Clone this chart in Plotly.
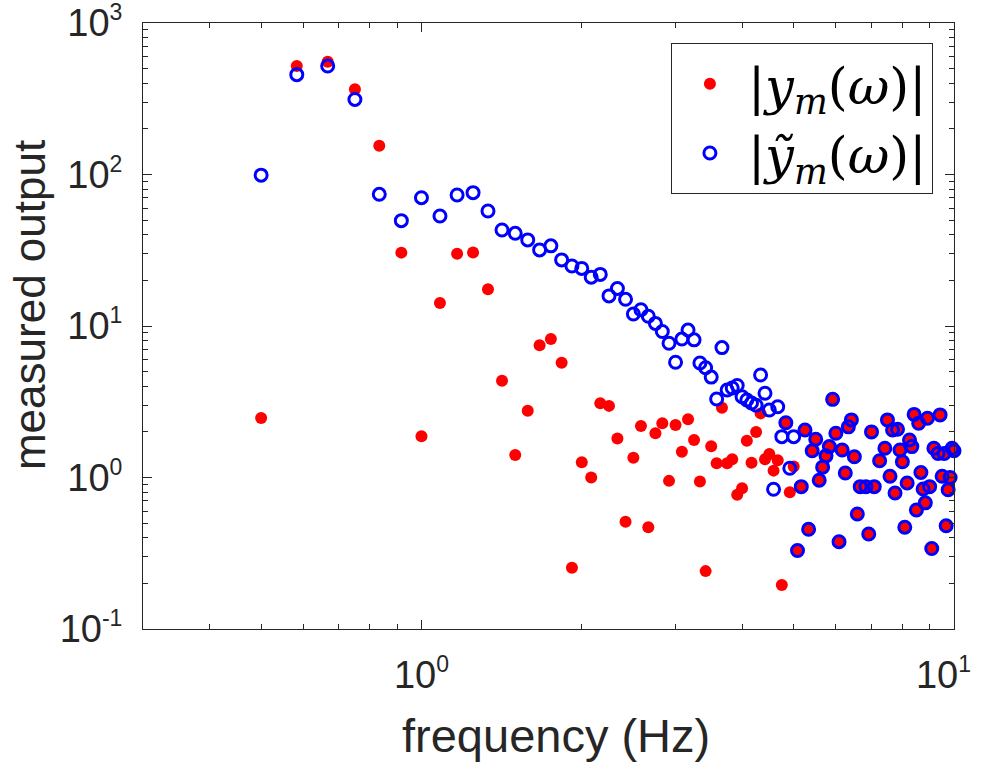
import math
import plotly.graph_objects as go

# frequencies (Hz)
freq = [0.5000, 0.5833, 0.6667, 0.7500, 0.8333, 0.9167, 1.0000, 1.0833, 1.1667, 1.2500,
        1.3333, 1.4167, 1.5000, 1.5833, 1.6667, 1.7500, 1.8333, 1.9167, 2.0000, 2.0833,
        2.1667, 2.2500, 2.3333, 2.4167, 2.5000, 2.5833, 2.6667, 2.7500, 2.8333, 2.9167,
        3.0000, 3.0833, 3.1667, 3.2500, 3.3333, 3.4167, 3.5000, 3.5833, 3.6667, 3.7500,
        3.8333, 3.9167, 4.0000, 4.0833, 4.1667, 4.2500, 4.3333, 4.4167, 4.5000, 4.5833,
        4.6667, 4.7500, 4.8333, 4.9167, 5.0000, 5.0833, 5.1667, 5.2500, 5.3333, 5.4167,
        5.5000, 5.5833, 5.6667, 5.7500, 5.8333, 5.9167, 6.0000, 6.0833, 6.1667, 6.2500,
        6.3333, 6.4167, 6.5000, 6.5833, 6.6667, 6.7500, 6.8333, 6.9167, 7.0000, 7.0833,
        7.1667, 7.2500, 7.3333, 7.4167, 7.5000, 7.5833, 7.6667, 7.7500, 7.8333, 7.9167,
        8.0000, 8.0833, 8.1667, 8.2500, 8.3333, 8.4167, 8.5000, 8.5833, 8.6667, 8.7500,
        8.8333, 8.9167, 9.0000, 9.0833, 9.1667, 9.2500, 9.3333, 9.4167, 9.5000, 9.5833,
        9.6667, 9.7500, 9.8333, 9.9167, 10.0000]

# |y_m(omega)|  (red filled dots)
y_m = [2.47, 520, 555, 365, 155, 30.5, 1.87, 14.2, 30, 30.6,
       17.5, 4.35, 1.41, 2.76, 7.46, 8.2, 5.73, 0.254, 1.26, 1.0,
       3.09, 2.97, 1.81, 0.51, 1.35, 2.19, 0.47, 1.96, 2.28, 0.95,
       2.22, 1.48, 2.42, 1.77, 0.94, 0.241, 1.61, 1.24, 2.89, 1.24,
       1.32, 0.77, 0.85, 1.75, 1.25, 2.0, 2.65, 1.32, 1.43, 1.11,
       1.30, 0.195, 2.3, 0.80, 1.18, 0.33, 0.87, 2.06, 0.455, 1.50,
       1.79, 0.96, 1.17, 1.39, 1.60, 3.28, 1.96, 0.377, 1.52, 1.07,
       2.16, 2.40, 1.37, 0.574, 0.87, None, 0.87, 0.424, 2.0, 0.87,
       None, 1.29, None, 1.56, 2.40, 1.02, 2.06, 0.79, 2.08, 1.52,
       1.27, 0.47, 0.92, 1.77, 1.60, 2.61, 0.61, 2.28, 1.08, 0.84,
       0.68, 2.46, 0.87, 0.34, 1.56, None, 1.44, 2.59, 1.02, 1.44,
       0.48, 0.83, 1.0, 1.56, 1.50]

# |y~_m(omega)|  (blue open circles)
y_tilde = [99, 456, 520, 313, 74, 49.6, 70.3, 53.2, 73.2, 75.9,
           57.4, 43, 40.9, 37, 31.8, 33.8, 27.3, 24.9, 24.0, 21,
           21.9, 15.8, 17.7, 15.0, 12.0, 12.8, 11.6, 10.4, 9.2, 7.7,
           5.76, 8.2, 9.4, 8.1, 5.7, 5.3, 4.6, 3.3, 7.2, 3.78,
           3.9, 4.05, 3.41, 3.25, 3.1, 3.0, 4.75, 3.6, 2.79, 0.836,
           2.93, 1.86, 2.3, 1.15, 1.86, 0.33, 0.87, 2.06, 0.455, 1.50,
           1.79, 0.96, 1.17, 1.39, 1.60, 3.28, 1.96, 0.377, 1.52, 1.07,
           2.16, 2.40, 1.37, 0.574, 0.87, None, 0.87, 0.424, 2.0, 0.87,
           None, 1.29, None, 1.56, 2.40, 1.02, 2.06, 0.79, 2.08, 1.52,
           1.27, 0.47, 0.92, 1.77, 1.60, 2.61, 0.61, 2.28, 1.08, 0.84,
           0.68, 2.46, 0.87, 0.34, 1.56, None, 1.44, 2.59, 1.02, 1.44,
           0.48, 0.83, 1.0, 1.56, 1.50]

x_tickvals = [1, 10]
x_exponents = ["0", "1"]
x_minor = [0.4, 0.5, 0.6, 0.7, 0.8, 0.9, 2, 3, 4, 5, 6, 7, 8, 9]
y_tickvals = [0.1, 1, 10, 100, 1000]
y_exponents = ["-1", "0", "1", "2", "3"]
y_minor = [m * d for d in (0.1, 1, 10, 100) for m in range(2, 10)]

x_title = "frequency (Hz)"
y_title = "measured output"

SUP = "10<sup><span style='font-size:23px'>{}</span></sup>"
x_ticktext = [SUP.format(e) for e in x_exponents]
x_ticktext[-1] += "\u00a0\u00a0"
y_ticktext = [SUP.format(e) for e in y_exponents]

name_m = "|<i>y</i><sub><i>m</i></sub>(<i>ω</i>)|"
name_t = "|<i>ỹ</i><sub><i>m</i></sub>(<i>ω</i>)|"

AX = "#262626"
SANS = "Liberation Sans, Arial, Helvetica, sans-serif"

fig = go.Figure()
fig.add_trace(go.Scatter(
    x=freq, y=y_m, mode="markers", name=name_m, legendgroup="a", cliponaxis=False,
    marker=dict(color="#FF0000", size=12, line=dict(width=0)),
))
fig.add_trace(go.Scatter(
    x=freq, y=y_tilde, mode="markers", name=name_t, legendgroup="b", cliponaxis=False,
    marker=dict(symbol="circle-open", color="#0000FF", size=12,
                line=dict(width=3, color="#0000FF")),
))

axis_common = dict(
    type="log", showgrid=False, zeroline=False,
    showline=True, linecolor=AX, linewidth=1, mirror="ticks",
    ticks="inside", ticklen=9, tickwidth=1, tickcolor=AX,
    tickfont=dict(family=SANS, size=38, color=AX),
    ticklabeloverflow="allow", automargin=False,
)

fig.update_layout(
    width=982, height=763,
    margin=dict(l=143, r=28, t=23, b=134, autoexpand=False),
    paper_bgcolor="white", plot_bgcolor="white",
    showlegend=True,
    legend=dict(
        x=0.974, y=0.967, xanchor="right", yanchor="top",
        bordercolor=AX, borderwidth=1, bgcolor="white",
        itemwidth=66, tracegroupgap=0,
        font=dict(family="DejaVu Serif, Liberation Serif, serif", size=51, color="black"),
    ),
    xaxis=dict(
        **axis_common,
        range=[math.log10(0.3), 1],
        tickmode="array", tickvals=x_tickvals, ticktext=x_ticktext,
        ticklabelstandoff=12,
        minor=dict(ticks="inside", ticklen=5, tickcolor=AX, tickmode="array",
                   tickvals=x_minor, showgrid=False),
    ),
    yaxis=dict(
        **axis_common,
        range=[-1, 3],
        tickmode="array", tickvals=y_tickvals, ticktext=y_ticktext,
        ticklabelstandoff=12,
        minor=dict(ticks="inside", ticklen=5, tickcolor=AX, tickmode="array",
                   tickvals=y_minor, showgrid=False),
    ),
    annotations=[
        dict(text=x_title, xref="paper", yref="paper", x=0.5095, y=-0.175,
             xanchor="center", yanchor="middle", showarrow=False,
             font=dict(family=SANS, size=47, color=AX)),
        dict(text=y_title, xref="paper", yref="paper", x=-0.139, y=0.535,
             xanchor="center", yanchor="middle", showarrow=False, textangle=-90,
             font=dict(family=SANS, size=44, color=AX)),
    ],
)

fig.write_html("out.html")
